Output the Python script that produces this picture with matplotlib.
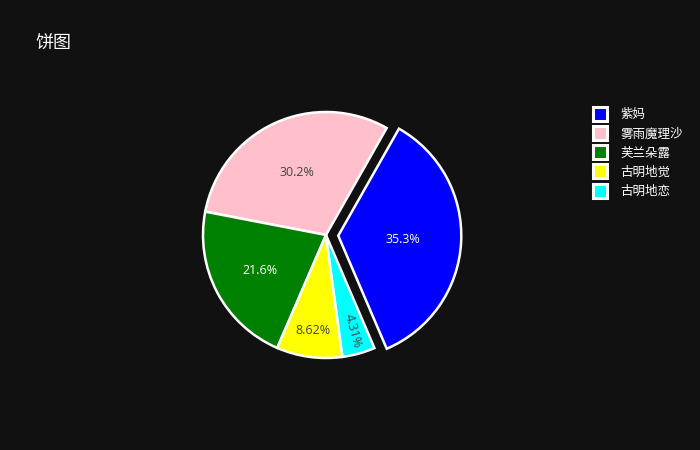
import matplotlib
matplotlib.use('Agg')
import matplotlib.pyplot as plt
from matplotlib.lines import Line2D
import numpy as np

plt.rcParams['font.family'] = ['Open Sans', 'Noto Sans CJK SC', 'DejaVu Sans']

labels = ['紫妈', '雾雨魔理沙', '芙兰朵露', '古明地觉', '古明地恋']
values = [82, 70, 50, 20, 10]
colors = ['blue', 'pink', 'green', 'yellow', 'cyan']
text_colors = ['white', '#444444', 'white', '#444444', '#444444']
label_dist = [0.53, 0.56, 0.61, 0.78, 0.81]
pull = [0.1, 0, 0, 0, 0]

bg = '#111111'
fig = plt.figure(figsize=(7, 4.5), dpi=100, facecolor=bg)
ax = fig.add_axes([141.5 / 700, 30.5 / 450, 369 / 700, 369 / 450])
ax.set_facecolor(bg)

wedges, texts, autotexts = ax.pie(
    values, colors=colors, explode=pull, startangle=-66.8, counterclock=True,
    autopct=lambda p: f'{p:.3g}%', radius=1,
    wedgeprops=dict(edgecolor='white', linewidth=1.8),
    textprops=dict(fontsize=9))
ax.set_xlim(-1.5, 1.5)
ax.set_ylim(-1.5, 1.5)
ax.set_aspect('equal')
ax.axis('off')

for i, (w, t) in enumerate(zip(wedges, autotexts)):
    mid = np.deg2rad((w.theta1 + w.theta2) / 2)
    cx, cy = w.center
    t.set_position((cx + label_dist[i] * np.cos(mid), cy + label_dist[i] * np.sin(mid)))
    t.set_color(text_colors[i])
    t.set_ha('center')
    t.set_va('center')
# smallest slice label runs along the radius
mid = (wedges[4].theta1 + wedges[4].theta2) / 2
autotexts[4].set_rotation(mid)
autotexts[4].set_rotation_mode('anchor')

fig.text(35 / 700, 1 - 44 / 450, '饼图', color='white', fontsize=13, va='center', ha='left')

handles = [Line2D([], [], marker='s', linestyle='none', markersize=10,
                  markerfacecolor=c, markeredgecolor='white', markeredgewidth=2.2)
           for c in colors]
leg = fig.legend(handles, labels, loc='upper left', bbox_to_anchor=(587 / 700, 1 - 103 / 450),
                 frameon=False, fontsize=9, labelcolor='white', handlelength=1.2,
                 handletextpad=1.1, labelspacing=0.5, borderaxespad=0)

fig.savefig('out.png', facecolor=bg)
